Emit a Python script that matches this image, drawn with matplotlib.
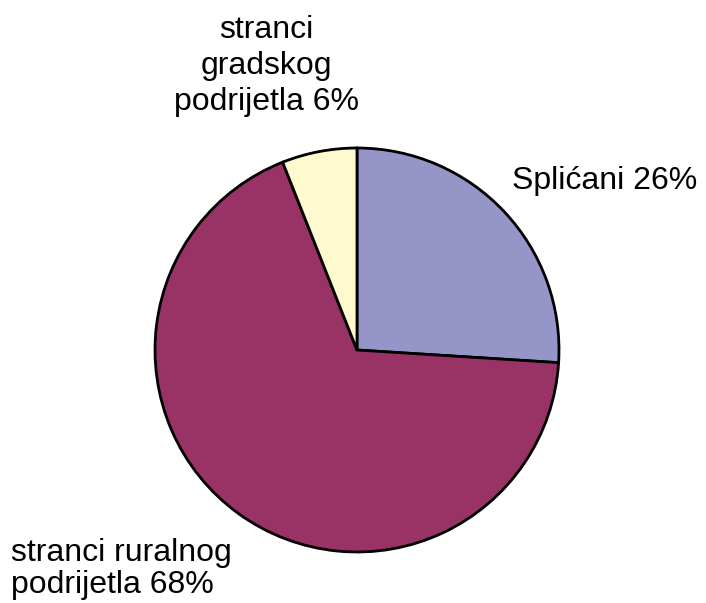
import matplotlib.pyplot as plt

plt.rcParams['font.family'] = ['Liberation Sans', 'DejaVu Sans']

# udjeli stanovništva
labels = ['Splićani 26%', 'stranci ruralnog\npodrijetla 68%', 'stranci\ngradskog\npodrijetla 6%']
values = [26, 68, 6]
colors = ['#9595C8', '#993366', '#FFF9D0']

W, H = 706, 603
fig = plt.figure(figsize=(W / 100, H / 100), dpi=100)
ax = fig.add_axes([0, 0, 1, 1])

ax.pie(values, colors=colors, startangle=90, counterclock=False,
       center=(357, H - 350), radius=202, frame=True,
       wedgeprops=dict(edgecolor='black', linewidth=2))
ax.set_xlim(0, W)
ax.set_ylim(0, H)
ax.set_aspect('equal')
ax.axis('off')

# oznake
ax.text(512, H - 181, labels[0], fontsize=23, ha='left', va='center')
ax.text(11, H - 569, labels[1], fontsize=23, ha='left', va='center',
        linespacing=1.1)
ax.text(266, H - 66, labels[2], fontsize=23, ha='center', va='center',
        linespacing=1.25)

fig.savefig('out.png', dpi=100)
